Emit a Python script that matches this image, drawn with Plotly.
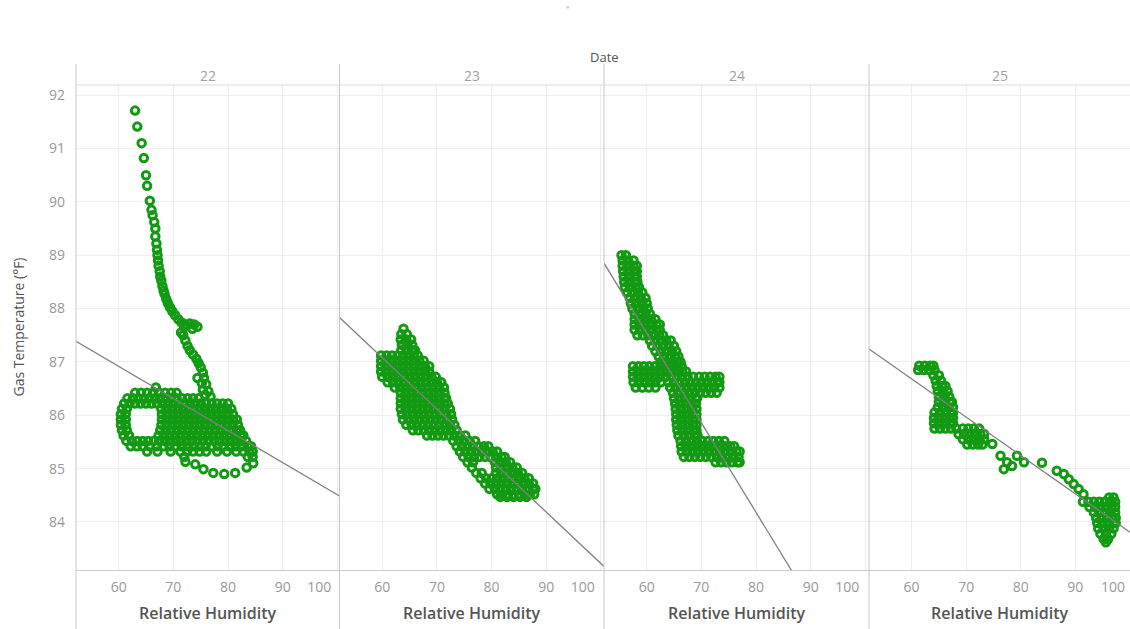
import plotly.graph_objects as go

# ---------------- data ----------------
dates = ["22", "23", "24", "25"]
y_ticks = [84, 85, 86, 87, 88, 89, 90, 91, 92]
x_ticks = [60, 70, 80, 90, 100]
x_tick_text = ["60", "70", "80", "90", "100" + "\u00a0" * 10]
x_tick_text_last = ["60", "70", "80", "90", ""]   # last "100" is set inside the cut-off edge
last_tick_label = "100"

# linear trend lines  T = intercept + slope * RH
trend_intercept = [90.53, 92.87, 97.62, 90.99]
trend_slope = [-0.0602, -0.0965, -0.168, -0.0718]

# ---- 22 ----
temp_rows_22 = [86.52, 86.42, 86.32, 86.22, 86.12, 86.02, 85.92, 85.82, 85.72, 85.62, 85.52, 85.42, 85.32, 85.22]
rh_rows_22 = [
    [66.8],
    [63.0, 64.1, 65.2, 66.3, 67.4, 68.5, 69.6, 70.6],
    [61.6, 62.6, 63.6, 64.6, 65.6, 66.6, 67.6, 68.6, 69.6, 70.6, 71.6, 72.6, 73.6, 74.6],
    [61.0, 62.0, 63.0, 64.0, 65.0, 66.0, 67.0, 68.0, 69.0, 70.0, 71.0, 72.0, 73.0, 74.0, 75.0, 76.0, 77.0, 78.0, 79.0, 80.0],
    [60.6, 61.5, 67.8, 68.8, 69.8, 70.8, 71.8, 72.8, 73.8, 74.8, 75.8, 76.8, 77.8, 78.8, 79.8, 80.6],
    [60.4, 61.3, 67.9, 68.9, 69.9, 70.9, 71.9, 72.9, 73.9, 74.9, 75.9, 76.9, 77.9, 78.9, 79.9, 80.9],
    [60.4, 61.3, 67.9, 68.9, 69.9, 70.9, 71.9, 72.9, 73.9, 74.9, 75.9, 76.9, 77.9, 78.9, 79.9, 80.9, 81.6],
    [60.4, 61.3, 67.8, 68.8, 69.8, 70.8, 71.8, 72.8, 73.8, 74.8, 75.8, 76.8, 77.8, 78.8, 79.8, 80.8, 81.8],
    [60.6, 61.5, 67.6, 68.6, 69.6, 70.6, 71.6, 72.6, 73.6, 74.6, 75.6, 76.6, 77.6, 78.6, 79.6, 80.6, 81.6, 82.2],
    [60.9, 61.9, 67.3, 68.3, 69.3, 70.3, 71.3, 72.3, 73.3, 74.3, 75.3, 76.3, 77.3, 78.3, 79.3, 80.3, 81.3, 82.3, 82.8],
    [61.4, 62.4, 63.4, 64.4, 65.4, 66.4, 67.4, 68.4, 69.4, 70.4, 71.4, 72.4, 73.4, 74.4, 75.4, 76.4, 77.4, 78.4, 79.4, 80.4, 81.4, 82.4, 83.3],
    [62.2, 63.3, 64.4, 65.6, 67.0, 68.2, 69.3, 70.4, 71.5, 72.6, 73.7, 74.8, 75.9, 77.0, 78.1, 79.2, 80.3, 81.4, 82.5, 83.6, 84.2],
    [65.2, 67.1, 69.5, 71.3, 72.5, 73.6, 74.8, 76.0, 78.0, 79.8, 81.5, 82.8, 83.9, 84.5],
    [72.0, 83.6, 84.5],
]
rh_path_22 = [63.0, 63.4, 64.2, 64.6, 65.0, 65.2, 65.7, 66.0, 66.2, 66.5,
              66.7, 66.7, 66.9, 67.0, 67.1, 67.2, 67.3, 67.5, 67.6, 67.8,
              68.0, 68.2, 68.4, 68.7, 69.0, 69.4, 69.8, 70.3, 70.9, 71.5,
              72.2, 73.0, 73.8, 74.4, 73.5, 72.0, 71.4,
              71.8, 72.2, 72.6, 73.0, 73.6, 74.2, 74.6, 75.0, 75.4,
              74.4, 75.6, 75.2, 76.0, 75.4, 76.4, 75.8, 76.8,
              72.2, 74.0, 75.5, 77.3, 79.3, 81.3, 83.4, 84.6]
temp_path_22 = [91.71, 91.41, 91.10, 90.82, 90.50, 90.30, 90.02, 89.85, 89.75, 89.62,
                89.50, 89.35, 89.22, 89.10, 89.00, 88.90, 88.80, 88.70, 88.60, 88.52,
                88.42, 88.34, 88.27, 88.18, 88.10, 88.02, 87.95, 87.88, 87.80, 87.74,
                87.70, 87.72, 87.70, 87.66, 87.62, 87.65, 87.55,
                87.50, 87.40, 87.30, 87.22, 87.14, 87.06, 86.98, 86.90, 86.80,
                86.70, 86.70, 86.60, 86.58, 86.48, 86.45, 86.38, 86.35,
                85.13, 85.08, 84.99, 84.92, 84.90, 84.92, 85.02, 85.10]

# ---- 23 ----
temp_rows_23 = [87.62, 87.52, 87.42, 87.32, 87.22, 87.12, 87.02, 86.92, 86.82, 86.72,
                86.62, 86.52, 86.42, 86.32, 86.22, 86.12, 86.02, 85.92, 85.82, 85.72,
                85.62, 85.52, 85.42, 85.32, 85.22, 85.12, 85.02, 84.92, 84.82, 84.72,
                84.62, 84.52, 84.47]
rh_rows_23 = [
    [63.9],
    [63.5, 64.5],
    [63.4, 64.4, 65.3],
    [63.6, 64.6, 65.5],
    [63.5, 64.5, 65.5, 66.0],
    [59.8, 60.8, 61.8, 62.8, 63.8, 64.8, 65.8, 66.5],
    [59.8, 60.8, 61.8, 62.8, 63.8, 64.8, 65.8, 66.8, 67.6],
    [59.8, 60.8, 61.8, 62.8, 63.8, 64.8, 65.8, 66.8, 67.8, 68.6],
    [59.8, 60.8, 61.8, 62.8, 63.8, 64.8, 65.8, 66.8, 67.8, 68.6],
    [60.0, 61.0, 62.0, 63.0, 64.0, 65.0, 66.0, 67.0, 68.0, 69.0, 69.8],
    [61.0, 62.0, 63.0, 64.0, 65.0, 66.0, 67.0, 68.0, 69.0, 70.0, 70.8],
    [62.3, 63.3, 64.3, 65.3, 66.3, 67.3, 68.3, 69.3, 70.3, 71.3],
    [63.4, 64.4, 65.4, 66.4, 67.4, 68.4, 69.4, 70.4, 71.4],
    [63.4, 64.4, 65.4, 66.4, 67.4, 68.4, 69.4, 70.4, 71.4, 71.7],
    [63.4, 64.4, 65.4, 66.4, 67.4, 68.4, 69.4, 70.4, 71.4, 72.0],
    [63.4, 64.4, 65.4, 66.4, 67.4, 68.4, 69.4, 70.4, 71.4, 72.4],
    [63.6, 64.6, 65.6, 66.6, 67.6, 68.6, 69.6, 70.6, 71.6, 72.6],
    [63.8, 64.8, 65.8, 66.8, 67.8, 68.8, 69.8, 70.8, 71.8, 72.8],
    [64.4, 65.4, 66.4, 67.4, 68.4, 69.4, 70.4, 71.4, 72.4, 73.2],
    [65.6, 66.6, 67.6, 68.6, 69.6, 70.6, 71.6, 72.6, 73.6],
    [68.2, 69.2, 70.2, 71.2, 72.2, 73.2, 74.2, 75.2],
    [73.0, 74.0, 75.0, 76.0, 77.0],
    [73.6, 74.6, 75.6, 76.6, 77.6, 78.6, 79.4],
    [74.2, 75.2, 76.2, 77.2, 78.2, 79.2, 80.2, 81.0],
    [74.8, 75.8, 76.8, 77.8, 78.8, 79.8, 80.8, 81.8, 82.4],
    [75.6, 76.6, 80.6, 81.6, 82.6, 83.4],
    [76.4, 80.8, 81.8, 82.8, 83.8, 84.6],
    [77.2, 78.2, 80.8, 81.8, 82.8, 83.8, 84.8, 85.6],
    [78.0, 79.0, 80.0, 81.0, 82.0, 83.0, 84.0, 85.0, 86.0, 86.8],
    [78.8, 79.8, 80.8, 81.8, 82.8, 83.8, 84.8, 85.8, 86.8, 87.6],
    [79.6, 80.6, 81.6, 82.6, 83.6, 84.6, 85.6, 86.6, 87.6, 88.0],
    [81.0, 82.0, 83.0, 84.0, 85.0, 86.0, 87.0, 87.8],
    [81.6, 82.8, 84.0, 85.2, 86.4],
]

# ---- 24 ----
temp_rows_24 = [89.00, 88.90, 88.80, 88.70, 88.60, 88.50, 88.40, 88.30, 88.20, 88.10,
                88.00, 87.90, 87.80, 87.70, 87.60, 87.50, 87.40, 87.30, 87.20, 87.10,
                87.00, 86.92, 86.82, 86.72, 86.62, 86.52, 86.42, 86.32, 86.22, 86.12,
                86.02, 85.92, 85.82, 85.72, 85.62, 85.52, 85.42, 85.32, 85.22, 85.12]
rh_rows_24 = [
    [55.4, 56.2],
    [55.6, 56.6, 57.6],
    [55.6, 56.6, 57.6, 58.2],
    [55.7, 56.7, 57.7, 58.2],
    [55.8, 56.8, 57.8, 58.2],
    [55.9, 56.9, 57.9, 58.3],
    [56.0, 57.0, 58.0, 58.6],
    [56.4, 57.4, 58.4, 59.2],
    [56.9, 57.9, 58.9, 59.8],
    [57.1, 58.1, 59.1, 60.0],
    [57.4, 58.4, 59.4, 60.2],
    [57.8, 58.8, 59.8, 60.6],
    [57.8, 58.8, 59.8, 60.8, 61.6],
    [57.8, 58.8, 59.8, 60.8, 61.8, 62.4],
    [57.8, 58.8, 59.8, 60.8, 61.8, 62.4],
    [58.3, 59.3, 60.3, 61.3, 62.3, 63.0],
    [60.6, 61.6, 62.6, 63.6, 64.4],
    [61.0, 62.0, 63.0, 64.0, 65.0],
    [61.6, 62.6, 63.6, 64.6, 65.4],
    [62.2, 63.2, 64.2, 65.2, 65.8],
    [62.6, 63.6, 64.6, 65.6, 66.2],
    [57.5, 58.5, 59.5, 60.5, 61.5, 62.5, 63.5, 64.5, 65.5, 66.4],
    [57.5, 58.5, 59.5, 60.5, 61.5, 62.5, 63.5, 64.5, 65.5, 66.5, 67.2],
    [57.5, 58.5, 59.5, 60.5, 61.5, 62.5, 63.5, 64.5, 65.5, 66.5, 67.5, 68.5, 69.6, 70.6, 71.6, 72.6, 73.3],
    [57.6, 58.6, 59.6, 60.6, 61.6, 62.6, 64.0, 65.0, 66.0, 67.0, 68.0, 69.0, 70.0, 71.0, 72.0, 73.0, 73.3],
    [58.0, 59.2, 60.4, 61.6, 64.3, 65.3, 66.3, 67.3, 68.3, 69.3, 70.3, 71.3, 72.3, 73.3],
    [64.8, 65.8, 66.8, 67.8, 68.8, 69.8, 70.8, 71.8, 72.8],
    [65.0, 66.0, 67.0, 68.0, 69.0, 69.2],
    [65.2, 66.2, 67.2, 68.2, 69.0],
    [65.3, 66.3, 67.3, 68.3, 69.1],
    [65.4, 66.4, 67.4, 68.4, 69.1],
    [65.4, 66.4, 67.4, 68.4, 69.1],
    [65.5, 66.5, 67.5, 68.5, 69.1],
    [65.6, 66.6, 67.6, 68.6, 69.1],
    [65.8, 66.8, 67.8, 68.8, 69.3],
    [66.2, 67.2, 68.2, 69.2, 70.2, 71.2, 72.2, 73.2, 74.2],
    [66.3, 67.3, 68.3, 69.3, 70.3, 71.3, 72.3, 73.3, 74.3, 75.3, 76.0],
    [66.4, 67.4, 68.4, 69.4, 70.4, 71.4, 72.4, 73.4, 74.4, 75.4, 76.4, 77.0],
    [66.8, 67.8, 68.8, 69.8, 70.8, 71.8, 72.8, 73.8, 74.8, 75.8, 76.8],
    [72.6, 73.6, 74.6, 75.6, 76.6, 77.0],
]

# ---- 25 ----
temp_rows_25 = [86.93, 86.85, 86.75, 86.65, 86.55, 86.45, 86.35, 86.25, 86.15, 86.05,
                85.95, 85.85, 85.75, 85.65, 85.55, 85.45,
                84.46, 84.38, 84.28, 84.18, 84.08, 83.98, 83.88, 83.78, 83.68, 83.62]
rh_rows_25 = [
    [61.4, 62.4, 63.4, 64.0],
    [61.2, 62.2, 63.2, 64.2],
    [64.0, 65.0],
    [64.4, 65.4],
    [64.6, 65.6, 66.2],
    [64.8, 65.8, 66.6],
    [65.0, 66.0, 66.9],
    [65.0, 66.0, 67.0, 67.4],
    [64.8, 65.8, 66.8, 67.6],
    [64.2, 65.2, 66.2, 67.2, 67.6],
    [64.1, 65.1, 66.1, 67.1, 67.6],
    [64.1, 65.1, 66.1, 67.1, 67.6],
    [64.2, 65.2, 66.2, 67.2, 68.2, 69.4, 70.4, 71.4, 72.4],
    [68.6, 69.6, 70.6, 71.6, 72.6, 73.3],
    [69.4, 70.4, 71.4, 72.4, 73.3],
    [70.2, 71.2, 72.2, 73.0],
    [96.2, 97.0],
    [91.4, 92.4, 93.4, 94.4, 95.4, 96.4, 97.3],
    [92.6, 93.6, 94.6, 95.6, 96.6, 97.3],
    [93.4, 94.4, 95.4, 96.4, 97.3],
    [93.8, 94.8, 95.8, 96.8, 97.4],
    [94.0, 95.0, 96.0, 97.0, 97.4],
    [94.2, 95.2, 96.2, 97.0],
    [94.6, 95.6, 96.6],
    [95.2, 96.0],
    [95.6],
]
rh_path_25 = [74.8, 76.3, 77.5, 76.9, 79.3, 80.6, 78.4, 83.9, 86.6, 87.9, 88.8, 89.7, 90.6, 91.5]
temp_path_25 = [85.46, 85.24, 85.12, 84.99, 85.24, 85.12, 85.05, 85.11, 84.96, 84.90, 84.80, 84.71, 84.62, 84.52]

# ---------------- assemble ----------------
def expand(rows_t, rows_rh, extra_rh=(), extra_t=()):
    xs, ys = [], []
    for t, rhs in zip(rows_t, rows_rh):
        for r in rhs:
            xs.append(r)
            ys.append(t)
    xs += list(extra_rh)
    ys += list(extra_t)
    return xs, ys

panels = [
    expand(temp_rows_22, rh_rows_22, rh_path_22, temp_path_22),
    expand(temp_rows_23, rh_rows_23),
    expand(temp_rows_24, rh_rows_24),
    expand(temp_rows_25, rh_rows_25, rh_path_25, temp_path_25),
]

GREEN = "#139a13"
FONT = "Open Sans"
W, H = 1130, 629
ML, MR, MT, MB = 76, 0, 85, 59
PW = W - ML - MR
PH = H - MT - MB

edges_px = [76, 339.5, 604, 869, 1130]
domains = [[(edges_px[i] - ML) / PW, (edges_px[i + 1] - ML) / PW] for i in range(4)]
x_ranges = [[52.2, 100.37], [52.2, 100.55], [52.2, 100.65], [52.2, 100.02]]
y_range = [83.1, 92.19]

fig = go.Figure()

for i, (xs, ys) in enumerate(panels):
    xa = "x" if i == 0 else f"x{i+1}"
    ya = "y" if i == 0 else f"y{i+1}"
    fig.add_trace(go.Scatter(
        x=xs, y=ys, mode="markers", xaxis=xa, yaxis=ya, showlegend=False,
        marker=dict(symbol="circle-open", size=7.5, color=GREEN, line=dict(width=3, color=GREEN)),
        hoverinfo="skip",
    ))

for i in range(4):
    xa = "x" if i == 0 else f"x{i+1}"
    ya = "y" if i == 0 else f"y{i+1}"
    lx = x_ranges[i]
    ly = [trend_intercept[i] + trend_slope[i] * v for v in lx]
    fig.add_trace(go.Scatter(
        x=lx, y=ly, mode="lines", xaxis=xa, yaxis=ya, showlegend=False,
        line=dict(color="#808080", width=1.3), hoverinfo="skip",
    ))

layout = dict(
    width=W, height=H,
    margin=dict(l=ML, r=MR, t=MT, b=MB, pad=0),
    paper_bgcolor="white", plot_bgcolor="white",
    template="none",
    font=dict(family=FONT, color="#555555"),
)

for i in range(4):
    xkey = "xaxis" if i == 0 else f"xaxis{i+1}"
    ykey = "yaxis" if i == 0 else f"yaxis{i+1}"
    layout[xkey] = dict(
        domain=domains[i], range=x_ranges[i], anchor="y" if i == 0 else f"y{i+1}",
        tickmode="array", tickvals=x_ticks,
        ticktext=x_tick_text if i < 3 else x_tick_text_last,
        showgrid=True, gridcolor="#eeeeee", gridwidth=1, zeroline=False,
        showline=True, linecolor="#cccccc", linewidth=1, ticks="",
        ticklabelstandoff=4, ticklabeloverflow="allow",
        tickfont=dict(family=FONT, size=14, color="#999999"),
        automargin=False, fixedrange=True,
    )
    layout[ykey] = dict(
        domain=[0, 1], range=y_range, anchor="x" if i == 0 else f"x{i+1}",
        tickmode="array", tickvals=y_ticks,
        showticklabels=(i == 0),
        showgrid=True, gridcolor="#eeeeee", gridwidth=1, zeroline=False,
        showline=False, ticks="", ticklabelstandoff=10,
        tickfont=dict(family=FONT, size=14, color="#999999"),
        automargin=False, fixedrange=True,
    )

def py(px_y):
    return (H - MB - px_y) / PH

def px(px_x):
    return (px_x - ML) / PW

shapes = []
for e in edges_px[:4]:
    shapes.append(dict(type="line", xref="paper", yref="paper",
                       x0=px(e), x1=px(e), y0=py(629), y1=py(64),
                       line=dict(color="#c8c8c8", width=1)))
shapes.append(dict(type="line", xref="paper", yref="paper",
                   x0=0, x1=1, y0=1, y1=1, line=dict(color="#dddddd", width=1)))
layout["shapes"] = shapes

annotations = []
for i, d in enumerate(dates):
    cx = (edges_px[i] + edges_px[i + 1]) / 2
    annotations.append(dict(text=d, xref="paper", yref="paper", x=px(cx), y=py(75),
                            showarrow=False, xanchor="center", yanchor="middle",
                            font=dict(family=FONT, size=14, color="#a0a0a0")))
    annotations.append(dict(text="Relative Humidity", xref="paper", yref="paper", x=px(cx), y=py(613),
                            showarrow=False, xanchor="center", yanchor="middle",
                            font=dict(family=FONT, size=16, color="#555555", weight=600)))
# last panel's "100" tick label, pulled inside the right edge (as in the reference)
annotations.append(dict(text=last_tick_label, xref="x4", yref="paper", x=x_ticks[-1], y=py(586),
                        xshift=-17, showarrow=False, xanchor="center", yanchor="middle",
                        font=dict(family=FONT, size=14, color="#999999")))
annotations.append(dict(text="Date", xref="paper", yref="paper", x=px(604), y=py(57),
                        showarrow=False, xanchor="center", yanchor="middle",
                        font=dict(family=FONT, size=13, color="#555555")))
annotations.append(dict(text="Gas Temperature (°F)", xref="paper", yref="paper", x=px(18), y=0.5,
                        showarrow=False, xanchor="center", yanchor="middle", textangle=-90,
                        font=dict(family=FONT, size=14, color="#555555")))
annotations.append(dict(text="●", xref="paper", yref="paper", x=px(568), y=py(7),
                        showarrow=False, xanchor="center", yanchor="middle",
                        font=dict(size=6, color="#c8c8c8")))
layout["annotations"] = annotations

fig.update_layout(**layout)
fig.write_html("out.html", config={"displayModeBar": False})
